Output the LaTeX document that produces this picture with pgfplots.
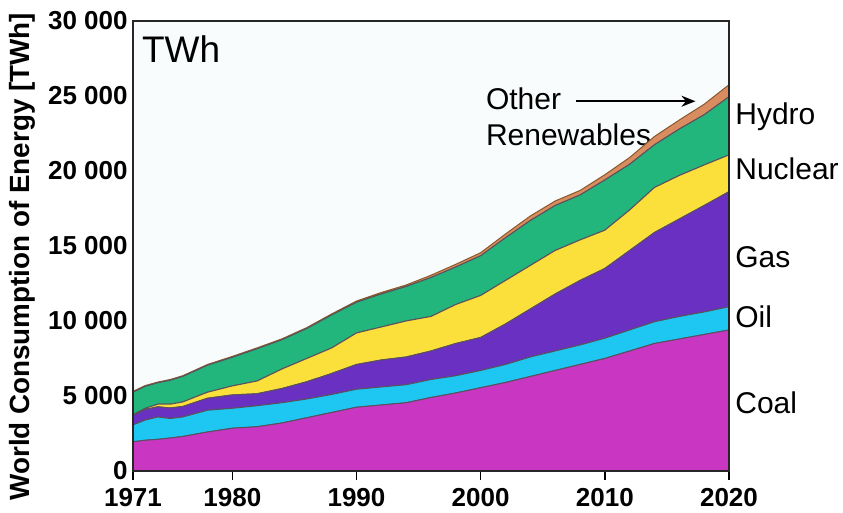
\documentclass[border=0pt]{standalone}
\usepackage{fontspec}
\setmainfont{Liberation Sans}
\usepackage{pgfplots}
\pgfplotsset{compat=1.18}
\usepackage{pgfplotstable}
\usetikzlibrary{arrows.meta}

\definecolor{coalc}{HTML}{C936C2}
\definecolor{oilc}{HTML}{1EC6F2}
\definecolor{gasc}{HTML}{6A30C2}
\definecolor{nucc}{HTML}{FBE03C}
\definecolor{hydc}{HTML}{22B57C}
\definecolor{othc}{HTML}{D98C5F}
\definecolor{edgec}{HTML}{5A5060}
\definecolor{plotbg}{HTML}{F9FCFC}

% layer values in TWh (not cumulative)
\pgfplotstableread{
year coal oil  gas  nuclear hydro other
1972 1950 1120 630  50      1500  60
1973 2050 1350 700  80      1470  50
1974 2110 1490 680  170     1430  50
1975 2200 1300 700  250     1600  50
1976 2300 1300 700  300     1700  50
1978 2600 1450 800  400     1800  50
1980 2850 1330 890  600     1910  60
1982 2950 1400 800  850     2150  60
1984 3200 1350 950  1300    1950  60
1986 3550 1250 1150 1550    2000  60
1988 3900 1200 1400 1700    2200  70
1990 4250 1200 1650 2100    2050  80
1992 4400 1200 1800 2200    2200  100
1994 4550 1200 1850 2400    2300  100
1996 4900 1200 1900 2300    2600  150
1998 5200 1150 2150 2600    2500  180
2000 5550 1150 2200 2800    2650  200
2002 5900 1200 2700 2900    2850  250
2004 6300 1300 3200 2900    3000  300
2006 6700 1300 3800 2900    3000  300
2008 7100 1300 4300 2700    3000  300
2010 7500 1350 4650 2550    3350  350
2012 8000 1400 5300 2700    3050  450
2014 8500 1450 5950 3000    2850  550
2016 8800 1500 6500 2900    3100  600
2018 9100 1500 7100 2700    3350  700
2020 9400 1550 7670 2450    3880  800
}\energy

\begin{document}
\begin{tikzpicture}
\begin{axis}[
    scale only axis, width=298pt, height=225pt,
    xmin=1972, xmax=2020, ymin=0, ymax=30000,
    stack plots=y,
    clip=false,
    axis on top,
    axis background/.style={fill=plotbg},
    axis line style={line width=1pt, black!85},
    tick pos=left,
    tick align=outside,
    major tick length=4.5pt,
    scaled y ticks=false,
    xtick={1972,1980,1990,2000,2010,2020},
    xticklabels={1971,1980,1990,2000,2010,2020},
    xtick style={line width=0.8pt, black},
    ytick={0,5000,10000,15000,20000,25000,30000},
    yticklabels={0,5 000,10 000,15 000,20 000,25 000,30 000},
    ytick style={draw=none},
    xticklabel style={font=\fontsize{13}{13}\selectfont\bfseries, anchor=north, inner sep=0pt, yshift=-4pt},
    yticklabel style={font=\fontsize{13}{13}\selectfont\bfseries, anchor=east, inner sep=0pt, xshift=2pt},
    ylabel={World Consumption of Energy [TWh]},
    ylabel style={font=\fontsize{13.9}{13.9}\selectfont\bfseries, at={(axis description cs:-0.186,0.476)}, anchor=center},
    every axis plot/.append style={draw=edgec, line width=0.5pt},
]
\addplot[fill=coalc] table[x=year, y=coal]{\energy} \closedcycle;
\addplot[fill=oilc] table[x=year, y=oil]{\energy} \closedcycle;
\addplot[fill=gasc] table[x=year, y=gas]{\energy} \closedcycle;
\addplot[fill=nucc] table[x=year, y=nuclear]{\energy} \closedcycle;
\addplot[fill=hydc] table[x=year, y=hydro]{\energy} \closedcycle;
\addplot[fill=othc, draw=brown!70!black] table[x=year, y=other]{\energy} \closedcycle;

\node[anchor=base west, font=\fontsize{18.5}{18.5}\selectfont, inner sep=0pt] at (axis cs:1972.7,27230) {TWh};
\node[anchor=base west, font=\fontsize{15}{15}\selectfont, inner sep=0pt] at (axis cs:2000.4,24100) {Other};
\node[anchor=base west, font=\fontsize{15}{15}\selectfont, inner sep=0pt] at (axis cs:2000.4,21700) {Renewables};
\draw[-{Stealth[length=7pt,width=5.5pt]}, line width=1pt] (axis cs:2007.7,24650) -- (axis cs:2017.3,24650);

\node[anchor=base west, font=\fontsize{15}{15}\selectfont, inner sep=0pt, xshift=3pt] at (axis cs:2020,23100) {Hydro};
\node[anchor=base west, font=\fontsize{15}{15}\selectfont, inner sep=0pt, xshift=3pt] at (axis cs:2020,19430) {Nuclear};
\node[anchor=base west, font=\fontsize{15}{15}\selectfont, inner sep=0pt, xshift=3pt] at (axis cs:2020,13570) {Gas};
\node[anchor=base west, font=\fontsize{15}{15}\selectfont, inner sep=0pt, xshift=3pt] at (axis cs:2020,9570) {Oil};
\node[anchor=base west, font=\fontsize{15}{15}\selectfont, inner sep=0pt, xshift=3pt] at (axis cs:2020,3830) {Coal};
\end{axis}
\pgfresetboundingbox
\path (-66.5pt,-21pt) rectangle (355pt,235.5pt);
\end{tikzpicture}
\end{document}
